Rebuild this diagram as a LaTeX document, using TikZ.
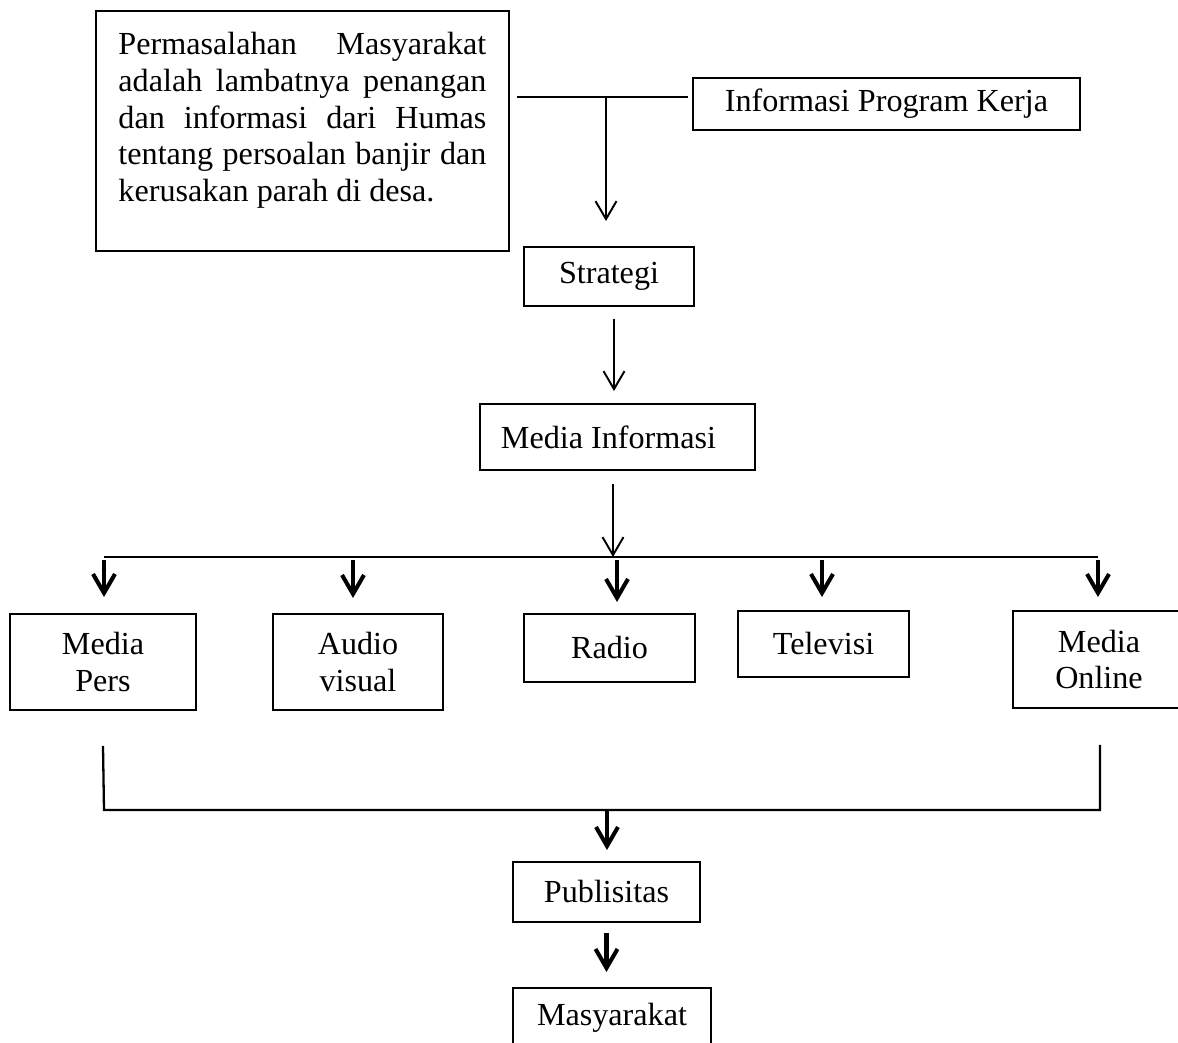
\documentclass[tikz,border=0pt]{standalone}
\usepackage{fontspec}
\setmainfont{Liberation Serif}
\usetikzlibrary{arrows.meta,positioning,calc}

\begin{document}
\begin{tikzpicture}[
  x=0.02cm,y=-0.02cm,
  every node/.style={font=\fontsize{18.3}{21}\selectfont},
  box/.style={draw,line width=1.1pt,align=center,inner sep=0pt},
  arr/.style={-{Straight Barb[length=0.36cm,width=0.42cm]},line width=1.1pt},
  tarr/.style={-{Straight Barb[length=0.38cm,width=0.44cm]},line width=2.3pt},
  bus/.style={line width=1.3pt}
]
\clip (0,0) rectangle (1178,1043);
\fill[white] (0,0) rectangle (1178,1043);
\node[draw,line width=1.1pt,anchor=north west,inner xsep=0.45cm,inner ysep=0.42cm] (prob) at (95,10)
  {\parbox[t][3.96cm][t]{7.36cm}{Permasalahan Masyarakat\linebreak adalah lambatnya penangan\linebreak dan informasi dari Humas\linebreak tentang persoalan banjir dan\linebreak kerusakan parah di desa.}};
\node[box,minimum width=7.74cm,minimum height=1.04cm] (info) at (886.5,104) {Informasi Program Kerja};
\node[box,minimum width=3.4cm,minimum height=1.18cm] (strat) at (609,276.5) {Strategi};
\node[box,minimum width=5.5cm,minimum height=1.32cm] (media) at (617.5,437) {Media Informasi\hspace*{0.36cm}};
\node[box,minimum width=3.72cm,minimum height=1.92cm] (pers) at (103,662) {Media\\Pers};
\node[box,minimum width=3.4cm,minimum height=1.92cm] (av) at (358,662) {Audio\\visual};
\node[box,minimum width=3.42cm,minimum height=1.36cm] (radio) at (609.5,648) {Radio};
\node[box,minimum width=3.42cm,minimum height=1.32cm] (tv) at (823.5,644) {Televisi};
\node[box,minimum width=3.44cm,minimum height=1.94cm] (online) at (1099,659.5) {Media\\Online};
\node[box,minimum width=3.74cm,minimum height=1.2cm] (pub) at (606.5,892) {Publisitas};
\node[box,minimum width=3.96cm,anchor=north,text height=0.75cm,text depth=1.2cm] (masy) at (612,987) {Masyarakat};
% junction between the two top boxes
\coordinate (jl) at (517,97);
\coordinate (jr) at (688,97);
\coordinate (jm) at (606,97);
\draw[bus] (jl) -- (jr);
\draw[arr,shorten >=0.5cm] (jm) -- (jm |- strat.north);
\draw[arr,shorten <=0.24cm,shorten >=0.24cm] (strat.south -| 614,0) -- (media.north -| 614,0);
% distribution bus
\coordinate (bl) at (104,557);
\coordinate (br) at (1098,557);
\coordinate (bm) at (613,557);
\draw[bus] (bl) -- (br);
\draw[arr,shorten <=0.26cm] (bm |- media.south) -- (bm);
\draw[tarr,shorten <=0.06cm,shorten >=0.32cm] (bl) -- (bl |- pers.north);
\draw[tarr,shorten <=0.06cm,shorten >=0.32cm] (353,557) -- (353,614);
\draw[tarr,shorten <=0.06cm,shorten >=0.24cm] (617,557) -- (617,614);
\draw[tarr,shorten <=0.06cm,shorten >=0.26cm] (822,557) -- (tv.north -| 822,0);
\draw[tarr,shorten <=0.06cm,shorten >=0.26cm] (br) -- (br |- online.north);
% collector
\coordinate (cl) at (104,810);
\coordinate (cr) at (1100,810);
\coordinate (cm) at (607,810);
\draw[bus] ([yshift=-0.7cm]pers.south) -- (cl) -- (cr) -- (1100,745);
\draw[tarr,shorten >=0.22cm] (cm) -- (cm |- pub.north);
\draw[tarr,shorten <=0.2cm,shorten >=0.3cm] (pub.south) -- (pub.south |- masy.north);
\end{tikzpicture}
\end{document}
